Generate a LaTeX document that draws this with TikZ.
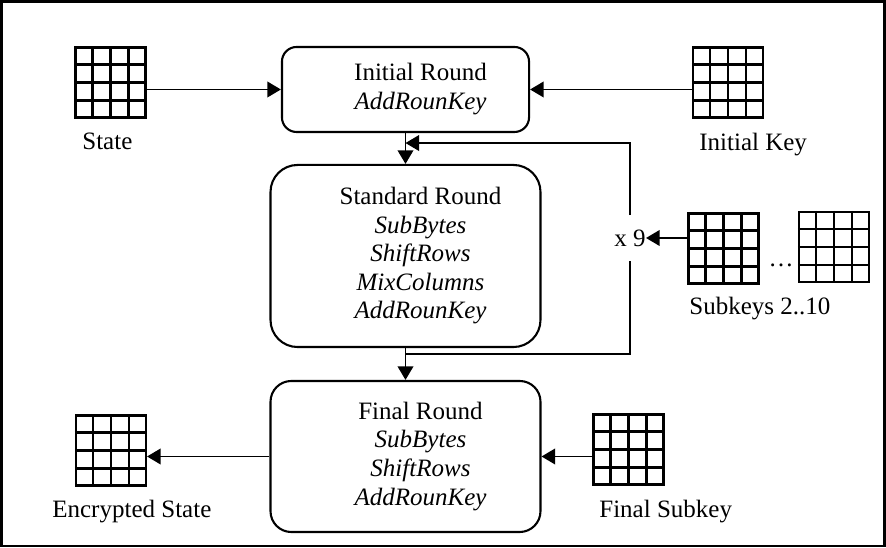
\documentclass[tikz,border=0pt]{standalone}
\usepackage{fontspec}
\setmainfont{Liberation Serif}
\usetikzlibrary{positioning}
\usetikzlibrary{arrows.meta}
\usetikzlibrary{calc}

% 4x4 state / key block
\newcommand{\keygrid}[3]{%
  \node[aesgrid] (#1) at (#2,#3) {};
  \foreach \g in {1,2,3} {
    \draw[line width=1pt] ($(#1.north west)!\g/4!(#1.north east)$) -- ($(#1.south west)!\g/4!(#1.south east)$);
    \draw[line width=1pt] ($(#1.north west)!\g/4!(#1.south west)$) -- ($(#1.north east)!\g/4!(#1.south east)$);
  }
}

\begin{document}
\begin{tikzpicture}[x=0.48pt, y=-0.48pt,
  font=\fontsize{12}{13.7}\selectfont,
  aesgrid/.style={draw, line width=1pt, minimum size=33.6pt, inner sep=0pt},
  rnd/.style={draw, line width=1pt, inner sep=0pt},
  arr/.style={line width=0.75pt, -{Triangle[length=6.5pt,width=7.5pt]}}]

  \useasboundingbox (0,0) rectangle (886,548);
  \draw[line width=1pt] (1.5,1.5) rectangle (884.5,546);

%rounds
  \node[rnd, rounded corners=7pt, minimum width=118.6pt, minimum height=40.8pt] (init) at (405.5,89.5)
    {\hspace*{14.4pt}\begin{tabular}{@{}c@{}}Initial Round\\\textit{AddRounKey}\end{tabular}};
  \node[rnd, rounded corners=13pt, minimum width=129.6pt, minimum height=87.4pt] (std) at (405.5,256)
    {\hspace*{14.4pt}\begin{tabular}{@{}c@{}}Standard Round\\\textit{SubBytes}\\\textit{ShiftRows}\\\textit{MixColumns}\\\textit{AddRounKey}\end{tabular}};
  \node[rnd, rounded corners=10pt, minimum width=129.6pt, minimum height=72.5pt] (fin) at (405.5,456.5)
    {\hspace*{14.4pt}\begin{tabular}{@{}c@{}}Final Round\\\textit{SubBytes}\\\textit{ShiftRows}\\\textit{AddRounKey}\end{tabular}};

%grids
  \keygrid{state}{110.5}{82.5}
  \keygrid{ikey}{728}{82.5}
  \keygrid{sub1}{723.5}{248.5}
  \keygrid{sub2}{834}{247}
  \keygrid{enc}{111}{450.5}
  \keygrid{fkey}{628.5}{449.5}

%labels
  \node[anchor=base west] (statelbl) at (75,150) {State};
  \node[anchor=base west] (ikeylbl) at (692,151) {Initial Key};
  \node[anchor=base west] (sublbl) at (682,315) {Subkeys 2..10};
  \node[anchor=base west] (enclbl) at (45,518) {Encrypted State};
  \node[anchor=base west] (fkeylbl) at (592,518) {Final Subkey};
  \node (dots) at (781,265) {\dots};
  \node[inner sep=0pt, minimum height=21.6pt] (times) at (630,238) {x 9};

%arrows
  \draw[arr] (init.west -| state.east) -- (init.west);
  \draw[arr] (init.east -| ikey.west) -- (init.east);
  \draw[arr] (init) -- (std);
  \draw[arr] (std) -- (fin);
  \draw[arr] (fin.west) -- (fin.west -| enc.east);
  \draw[arr] (fin.east -| fkey.west) -- (fin.east);
  \draw[arr] (times.east -| sub1.west) -- (times.east);

%loop
  \coordinate (loopout) at ($(std.south)+(0,6)$);
  \coordinate (loopin) at ($(init.south)+(0,10)$);
  \draw[line width=0.75pt] (loopout) -| (times);
  \draw[arr] (times) |- (loopin);

\end{tikzpicture}
\end{document}
